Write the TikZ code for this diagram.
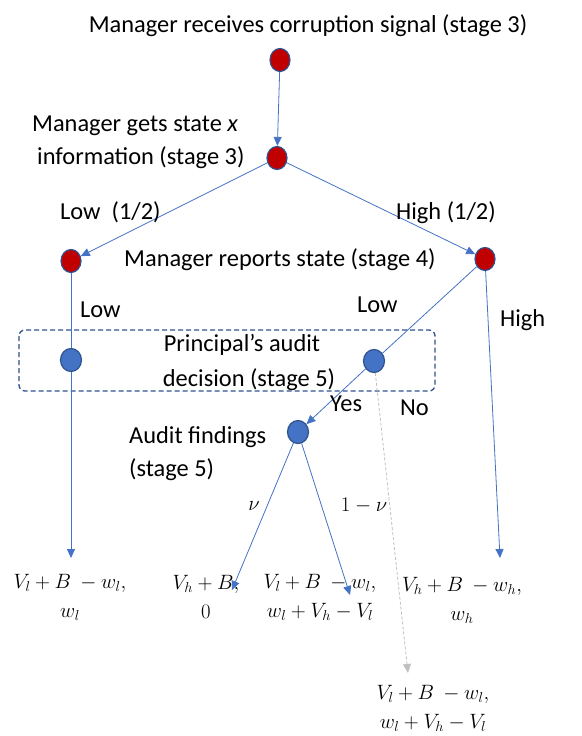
\documentclass[tikz,border=0pt]{standalone}
\usepackage{fontspec}
\setmainfont{Carlito}
\usetikzlibrary{arrows.meta, shapes.geometric}
\definecolor{lineblue}{RGB}{68,114,196}
\definecolor{edgeblue}{RGB}{47,82,143}
\definecolor{nodered}{RGB}{192,0,0}
\definecolor{nogray}{RGB}{191,191,191}
\tikzset{
  rednode/.style={ellipse, minimum width=20pt, minimum height=23pt, inner sep=0pt, fill=nodered, draw=edgeblue, line width=1.2pt},
  bluenode/.style={ellipse, minimum width=21pt, minimum height=23pt, inner sep=0pt, fill=lineblue, draw=edgeblue, line width=1.2pt},
  edge/.style={draw=lineblue, line width=0.8pt},
  arr/.style={edge, -{Triangle[length=9pt, width=8pt]}},
  noarr/.style={draw=nogray, line width=0.8pt, dash pattern=on 3pt off 2pt, -{Triangle[length=9pt, width=8pt]}},
  lbl/.style={font=\fontsize{24.4}{29}\selectfont, inner sep=0pt, text=black},
  pay/.style={font=\fontsize{20.5}{29}\selectfont, inner sep=0pt, align=center},
}
\begin{document}
\begin{tikzpicture}[x=1pt, y=-1pt]
\useasboundingbox (0,0) rectangle (581,736);
% decision nodes
\node[rednode] (root) at (280,60) {};
\node[rednode] (info) at (277,158) {};
\node[rednode] (repL) at (71,261) {};
\node[rednode] (repH) at (485,259) {};
\node[bluenode] (audL) at (71,360) {};
\node[bluenode] (audH) at (374,361) {};
\node[bluenode] (find) at (298,432) {};
% information set of the principal
\draw[edgeblue, line width=1.3pt, dash pattern=on 5pt off 3pt, rounded corners=6pt] (19,330) rectangle (435,391);
% terminal points of the branches
\coordinate (endL) at (71,558);
\coordinate (endH) at (500,558);
\coordinate (endNu) at (232,590);
\coordinate (endNotNu) at (350,595);
\coordinate (endNo) at (408,673);
% branches
\draw[arr] (root) -- (info);
\draw[arr] (info) -- (repL);
\draw[arr] (info) -- (repH);
\draw[edge] (repL) -- (audL);
\draw[arr] (audL) -- (endL);
\draw[edge] (repH) -- (audH);
\draw[arr] (repH) -- (endH);
\draw[arr] (audH) -- (find);
\draw[arr] (find) -- (endNu);
\draw[arr] (find) -- (endNotNu);
\draw[noarr] (audH) -- (endNo);
% stage texts
\node[lbl] (t1) at (308,26) {Manager receives corruption signal (stage 3)};
\node[lbl, anchor=west] (t2) at (32,126) {Manager gets state \textit{x}};
\node[lbl, anchor=west] (t3) at (37,158) {information (stage 3)};
\node[lbl, anchor=west] (t4) at (60,212) {Low\ \ (1/2)};
\node[lbl, anchor=west] (t5) at (396,213) {High (1/2)};
\node[lbl, anchor=west] (t6) at (124,260) {Manager reports state (stage 4)};
\node[lbl, anchor=west] (t7) at (80,310) {Low};
\node[lbl, anchor=west] (t8) at (357,305) {Low};
\node[lbl, anchor=west] (t9) at (500,320) {High};
\node[lbl] (t10) at (242,345) {Principal’s audit};
\node[lbl] (t11) at (249,380) {decision (stage 5)};
\node[lbl, anchor=west] (t12) at (330,404) {Yes};
\node[lbl, anchor=west] (t13) at (400,408) {No};
\node[lbl, anchor=west] (t14) at (129,437) {Audit findings};
\node[lbl, anchor=west] (t15) at (129,470) {(stage 5)};
\node[pay] (t16) at (254,506) {$\nu$};
\node[pay] (t17) at (364,506) {$1-\nu$};
% payoffs
\node[pay] (p1) at (70,597) {$V_l+B\ -w_l,$\\$w_l$};
\node[pay] (p2) at (206,597) {$V_h+B,$\\$0$};
\node[pay] (p3) at (320,597) {$V_l+B\ -w_l,$\\$w_l+V_h-V_l$};
\node[pay] (p4) at (462,600) {$V_h+B\ -w_h,$\\$w_h$};
\node[pay] (p5) at (433,708) {$V_l+B\ -w_l,$\\$w_l+V_h-V_l$};
\end{tikzpicture}
\end{document}
